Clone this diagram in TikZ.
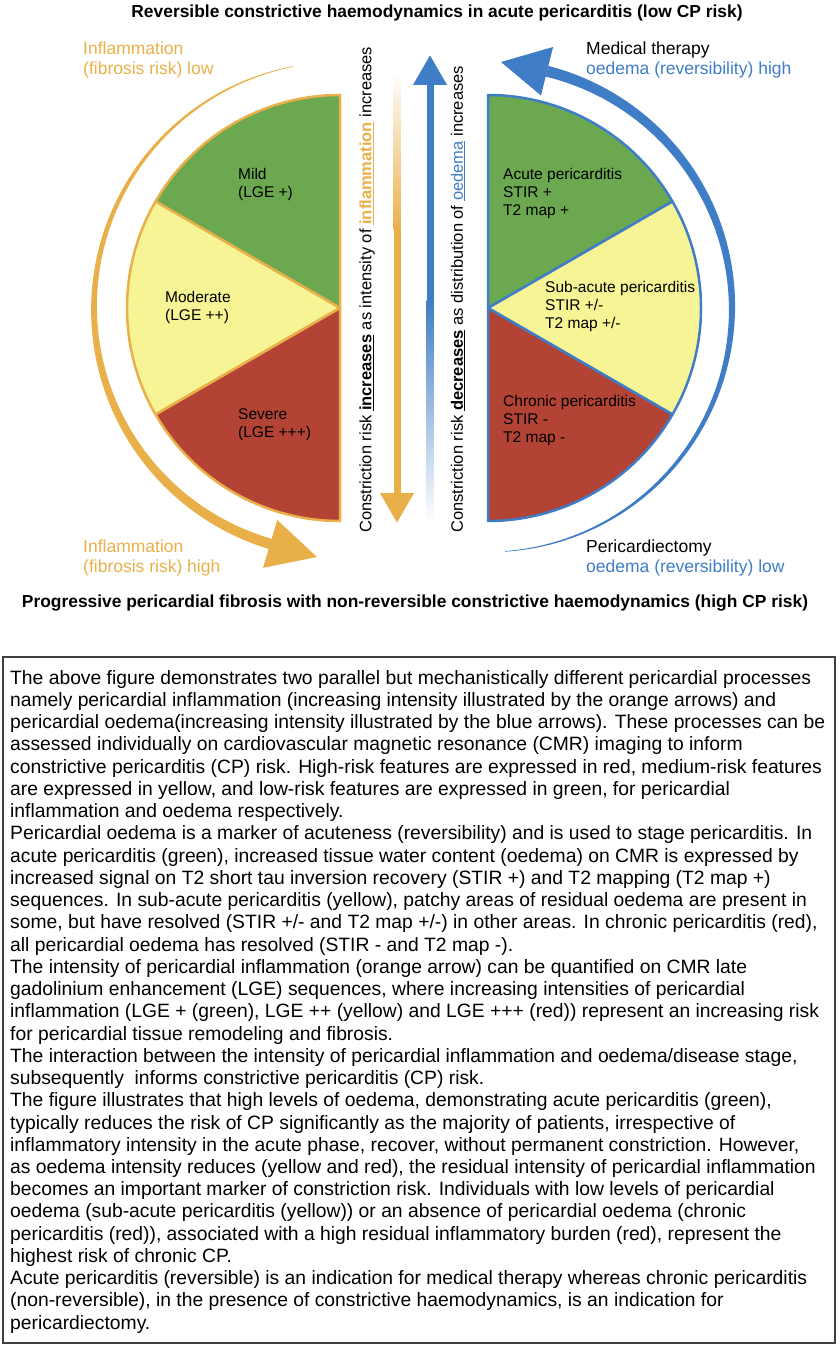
\documentclass[tikz,border=0pt]{standalone}
\usepackage{fontspec}
\setmainfont{Liberation Sans}
\usepackage{xcolor}
\usetikzlibrary{arrows.meta}

\definecolor{inflam}{RGB}{233,176,74}
\definecolor{oedema}{RGB}{63,125,198}
\definecolor{lowgreen}{RGB}{107,168,80}
\definecolor{midyellow}{RGB}{247,244,150}
\definecolor{highred}{RGB}{179,67,53}

\tikzset{
  slicelbl/.style={align=left, anchor=west, inner sep=0pt, font=\fontsize{15.5}{18}\selectfont},
  sidelbl/.style={align=left, anchor=west, inner sep=0pt, font=\fontsize{17.5}{20}\selectfont},
  risktxt/.style={rotate=90, anchor=west, inner sep=0pt, font=\fontsize{16.5}{20}\selectfont},
  headline/.style={inner sep=0pt, font=\bfseries\fontsize{17.4}{20}\selectfont},
}

\begin{document}
\begin{tikzpicture}[x=1pt, y=1pt]
  \useasboundingbox (0,0) rectangle (838,-1348);

  \node[headline] (toptitle) at (437,-13) {Reversible constrictive haemodynamics in acute pericarditis (low CP risk)};
  \node[headline] (bottitle) at (415,-603) {Progressive pericardial fibrosis with non-reversible constrictive haemodynamics (high CP risk)};

  % inflammation half
  \begin{scope}[shift={(340,-308)}]
    \filldraw[fill=lowgreen, draw=inflam, line width=2.5, line join=round] (0,0) -- (90:213) arc[start angle=90, end angle=150, radius=213] -- cycle;
    \filldraw[fill=midyellow, draw=inflam, line width=2.5, line join=round] (0,0) -- (150:213) arc[start angle=150, end angle=210, radius=213] -- cycle;
    \filldraw[fill=highred, draw=inflam, line width=2.5, line join=round] (0,0) -- (210:213) arc[start angle=210, end angle=270, radius=213] -- cycle;
    \fill[inflam] plot[domain=101:254, samples=90] ({(246+0.3+5*(\x-101)/153)*cos(\x)}, {(246+0.3+5*(\x-101)/153)*sin(\x)})
      -- plot[domain=254:101, samples=90] ({(246-0.3-5*(\x-101)/153)*cos(\x)}, {(246-0.3-5*(\x-101)/153)*sin(\x)}) -- cycle;
    \fill[inflam] (253.5:221) -- (253.5:271) -- (-23,-249) -- cycle;
  \end{scope}

  % oedema half
  \begin{scope}[shift={(488,-308)}]
    \filldraw[fill=lowgreen, draw=oedema, line width=2.5, line join=round] (0,0) -- (30:213) arc[start angle=30, end angle=90, radius=213] -- cycle;
    \filldraw[fill=midyellow, draw=oedema, line width=2.5, line join=round] (0,0) -- (-30:213) arc[start angle=-30, end angle=30, radius=213] -- cycle;
    \filldraw[fill=highred, draw=oedema, line width=2.5, line join=round] (0,0) -- (-90:213) arc[start angle=-90, end angle=-30, radius=213] -- cycle;
    \fill[oedema] plot[domain=-86:76, samples=90] ({(244+0.3+5.2*(\x+86)/162)*cos(\x)}, {(244+0.3+5.2*(\x+86)/162)*sin(\x)})
      -- plot[domain=76:-86, samples=90] ({(244-0.3-5.2*(\x+86)/162)*cos(\x)}, {(244-0.3-5.2*(\x+86)/162)*sin(\x)}) -- cycle;
    \fill[oedema] (76:219) -- (76:269) -- (13,246) -- cycle;
  \end{scope}

  % middle arrows
  \shade[top color=white, bottom color=inflam] (393.5,-72) rectangle (400.5,-230);
  \draw[inflam, line width=7, -{Triangle[width=32pt, length=30pt]}] (397,-229) -- (397,-523);
  \shade[top color=oedema, bottom color=white] (426.5,-300) rectangle (433.5,-522);
  \draw[oedema, line width=7, -{Triangle[width=32pt, length=30pt]}] (430,-301) -- (430,-55);

  \node[risktxt] (risk up) at (367,-533) {Constriction risk \underline{\textbf{increases}} as intensity of \textcolor{inflam}{\underline{\textbf{inflammation}}} increases};
  \node[risktxt] (risk down) at (458,-533) {Constriction risk \underline{\textbf{decreases}} as distribution of \textcolor{oedema}{\underline{oedema}} increases};

  % slice labels
  \node[slicelbl] (mild) at (238,-184) {Mild\\(LGE +)};
  \node[slicelbl] (moderate) at (165,-307) {Moderate\\(LGE ++)};
  \node[slicelbl] (severe) at (238,-425) {Severe\\(LGE +++)};
  \node[slicelbl] (acute) at (503,-193) {Acute pericarditis\\STIR +\\T2 map +};
  \node[slicelbl] (subacute) at (545,-306) {Sub-acute pericarditis\\STIR +/-\\T2 map +/-};
  \node[slicelbl] (chronic) at (503,-420) {Chronic pericarditis\\STIR -\\T2 map -};

  % side labels
  \node[sidelbl, text=inflam] (inflam low) at (83,-60) {Inflammation\\(fibrosis risk) low};
  \node[sidelbl, text=inflam] (inflam high) at (83,-558) {Inflammation\\(fibrosis risk) high};
  \node[sidelbl] (therapy) at (586,-60) {Medical therapy\\\textcolor{oedema}{oedema (reversibility) high}};
  \node[sidelbl] (surgery) at (586,-558) {Pericardiectomy\\\textcolor{oedema}{oedema (reversibility) low}};

  % caption box
  \draw[line width=1.2, black!75] (3,-657) rectangle (835,-1343);
  \node[anchor=north west, inner sep=0pt, align=left, font=\fontsize{19.3}{22.24}\selectfont] (caption) at (10,-670) {%
The above figure demonstrates two parallel but mechanistically different pericardial processes\\
namely pericardial inflammation (increasing intensity illustrated by the orange arrows) and\\
pericardial oedema(increasing intensity illustrated by the blue arrows). These processes can be\\
assessed individually on cardiovascular magnetic resonance (CMR) imaging to inform\\
constrictive pericarditis (CP) risk. High-risk features are expressed in red, medium-risk features\\
are expressed in yellow, and low-risk features are expressed in green, for pericardial\\
inflammation and oedema respectively.\\
Pericardial oedema is a marker of acuteness (reversibility) and is used to stage pericarditis. In\\
acute pericarditis (green), increased tissue water content (oedema) on CMR is expressed by\\
increased signal on T2 short tau inversion recovery (STIR +) and T2 mapping (T2 map +)\\
sequences. In sub-acute pericarditis (yellow), patchy areas of residual oedema are present in\\
some, but have resolved (STIR +/- and T2 map +/-) in other areas. In chronic pericarditis (red),\\
all pericardial oedema has resolved (STIR - and T2 map -).\\
The intensity of pericardial inflammation (orange arrow) can be quantified on CMR late\\
gadolinium enhancement (LGE) sequences, where increasing intensities of pericardial\\
inflammation (LGE + (green), LGE ++ (yellow) and LGE +++ (red)) represent an increasing risk\\
for pericardial tissue remodeling and fibrosis.\\
The interaction between the intensity of pericardial inflammation and oedema/disease stage,\\
subsequently~ informs constrictive pericarditis (CP) risk.\\
The figure illustrates that high levels of oedema, demonstrating acute pericarditis (green),\\
typically reduces the risk of CP significantly as the majority of patients, irrespective of\\
inflammatory intensity in the acute phase, recover, without permanent constriction. However,\\
as oedema intensity reduces (yellow and red), the residual intensity of pericardial inflammation\\
becomes an important marker of constriction risk. Individuals with low levels of pericardial\\
oedema (sub-acute pericarditis (yellow)) or an absence of pericardial oedema (chronic\\
pericarditis (red)), associated with a high residual inflammatory burden (red), represent the\\
highest risk of chronic CP.\\
Acute pericarditis (reversible) is an indication for medical therapy whereas chronic pericarditis\\
(non-reversible), in the presence of constrictive haemodynamics, is an indication for\\
pericardiectomy.};
\end{tikzpicture}
\end{document}
